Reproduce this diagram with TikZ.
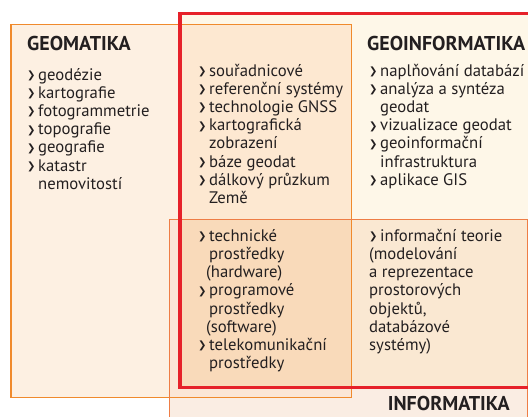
\documentclass[tikz,border=0pt]{standalone}
\usepackage{fontspec}
\setmainfont{PT Sans}
\newfontfamily\bulfont{DejaVu Sans}
\newcommand{\bul}{\makebox[11pt][l]{\raisebox{1.6pt}{\bulfont\fontsize{10}{10}\selectfont ❯}}}
\newcommand{\ind}{\hspace*{11pt}}

\begin{document}
\begin{tikzpicture}[x=1pt,y=-1pt,
  item/.style={anchor=base west,inner sep=0pt,text=txt,font=\fontsize{16.7}{18}\selectfont},
  head/.style={anchor=base west,inner sep=0pt,text=txt,font=\fontsize{20}{22}\selectfont\bfseries}]
\definecolor{txt}{HTML}{231F20}
\definecolor{geomfill}{HTML}{FDF0E2}
\definecolor{geoinffill}{HTML}{FEF7E8}
\definecolor{infofill}{HTML}{FAEDE3}
\definecolor{gmgi}{HTML}{FDE8D1}
\definecolor{gmin}{HTML}{FBE6D6}
\definecolor{giin}{HTML}{FAE8D2}
\definecolor{allthree}{HTML}{F9DABA}
\definecolor{geomline}{HTML}{F08A2C}
\definecolor{infoline}{HTML}{EE7D45}
\definecolor{geoinfline}{HTML}{E62129}
\useasboundingbox (0,0) rectangle (528,416);
\coordinate (gm-nw) at (11,24.3);
\coordinate (gm-se) at (351.3,397.3);
\coordinate (gi-nw) at (180,13.5);
\coordinate (gi-se) at (545,387.5);
\coordinate (in-nw) at (169.3,219.3);
\coordinate (in-se) at (527.3,430);
% plochy
\fill[geomfill] (gm-nw) rectangle (gm-se);
\fill[infofill] (in-nw) rectangle (in-se);
\fill[geoinffill] (gi-nw) rectangle (gi-se);
\begin{scope}
  \clip (gi-nw) rectangle (gi-se);
  \fill[giin] (in-nw) rectangle (in-se);
\end{scope}
\begin{scope}
  \clip (gm-nw) rectangle (gm-se);
  \fill[gmgi] (gi-nw) rectangle (gi-se);
  \fill[gmin] (in-nw) rectangle (in-se);
  \clip (gi-nw) rectangle (gi-se);
  \fill[allthree] (in-nw) rectangle (in-se);
\end{scope}
% okraje
\draw[geomline,line width=1.2pt] (gm-nw) rectangle (gm-se);
\draw[infoline,line width=1.2pt] (in-nw) rectangle (in-se);
\draw[geoinfline,line width=3.5pt] (gi-nw) rectangle (gi-se);
% nadpisy
\node[head] (geomatika) at (27,50) {GEOMATIKA};
\node[head] (geoinformatika) at (367,50) {GEOINFORMATIKA};
\node[head,anchor=base east] (informatika) at (510,410) {INFORMATIKA};
% seznamy
\foreach \t [count=\i from 0] in {\bul geodézie,\bul kartografie,\bul fotogrammetrie,
  \bul topografie,\bul geografie,\bul katastr,\ind nemovitostí}
  \node[item] (geom-\i) at (27,80+18.2*\i) {\t};
\foreach \t [count=\i from 0] in {\bul souřadnicové,\bul referenční systémy,
  \bul technologie GNSS,\bul kartografická,\ind zobrazení,\bul báze geodat,
  \bul dálkový průzkum,\ind Země}
  \node[item] (gmgi-\i) at (198,76+18.2*\i) {\t};
\foreach \t [count=\i from 0] in {\bul naplňování databází,\bul analýza a syntéza,
  \ind geodat,\bul vizualizace geodat,\bul geoinformační,\ind infrastruktura,
  \bul aplikace GIS}
  \node[item] (geoinf-\i) at (369,76+18.2*\i) {\t};
\foreach \t [count=\i from 0] in {\bul technické,\ind prostředky,\hspace*{8pt}(hardware),
  \bul programové,\ind prostředky,\hspace*{8pt}(software),\bul telekomunikační,
  \ind prostředky}
  \node[item] (all-\i) at (198,241.3+18.2*\i) {\t};
\foreach \t [count=\i from 0] in {\bul informační teorie,{(modelování},a reprezentace,
  prostorových,{objektů,},databázové,{systémy)}}
  \node[item] (giin-\i) at (369,241.3+18.2*\i) {\t};
\end{tikzpicture}
\end{document}
